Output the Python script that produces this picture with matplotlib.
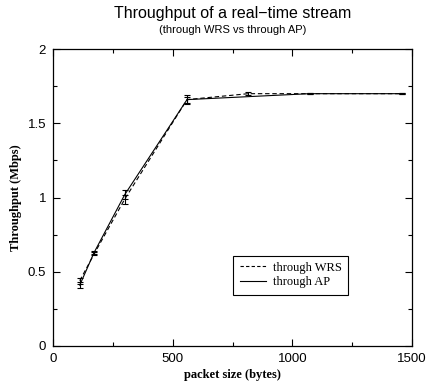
import matplotlib
matplotlib.use("Agg")

import matplotlib.pyplot as plt
from matplotlib.lines import Line2D
from matplotlib.ticker import MultipleLocator

# ---------------- data ----------------
wrs_size = [112, 172, 300, 560, 816, 1072, 1456]
wrs_tput = [0.44, 0.62, 0.99, 1.66, 1.70, 1.70, 1.70]
wrs_err = [0.02, 0.01, 0.03, 0.02, 0.01, 0.005, 0.005]

ap_size = [112, 172, 300, 560, 1072, 1456]
ap_tput = [0.41, 0.63, 1.02, 1.66, 1.70, 1.70]
ap_err = [0.02, 0.01, 0.03, 0.03, 0.005, 0.005]

serif = "Liberation Serif"
sans = "Liberation Sans"
dash = (0, (4, 2.5))

fig = plt.figure(figsize=(4.27, 3.84), dpi=100)
ax = fig.add_axes([0.124, 0.099, 0.841, 0.773])

ax.errorbar(wrs_size, wrs_tput, yerr=wrs_err, color="black", lw=0.8,
            ls=dash, capsize=2.5, elinewidth=0.8, capthick=0.8)
ax.errorbar(ap_size, ap_tput, yerr=ap_err, color="black", lw=0.8,
            capsize=2.5, elinewidth=0.8, capthick=0.8)

ax.set_xlim(0, 1500)
ax.set_ylim(0, 2)
ax.xaxis.set_major_locator(MultipleLocator(500))
ax.xaxis.set_minor_locator(MultipleLocator(250))
ax.yaxis.set_major_locator(MultipleLocator(0.5))
ax.yaxis.set_minor_locator(MultipleLocator(0.25))
ax.yaxis.set_major_formatter(plt.FuncFormatter(lambda v, p: f"{v:g}"))

ax.tick_params(which="both", direction="in", top=True, right=True,
               labelsize=9.5, pad=5)
ax.tick_params(which="major", length=5, width=0.8)
ax.tick_params(which="minor", length=3, width=0.8)
for lab in ax.get_xticklabels() + ax.get_yticklabels():
    lab.set_family(sans)
for sp in ax.spines.values():
    sp.set_linewidth(0.9)

ax.set_xlabel("packet size (bytes)", family=serif, weight="bold", fontsize=9, labelpad=3)
ax.set_ylabel("Throughput (Mbps)", family=serif, weight="bold", fontsize=9, labelpad=4)

# titles centred over the axes
cx = 0.124 + 0.841 / 2
fig.text(cx, 0.965, "Throughput of a real\u2212time stream", ha="center", va="center",
         family=sans, fontsize=11.5)
fig.text(cx, 0.922, "(through WRS vs through AP)", ha="center", va="center",
         family=sans, fontsize=8)

handles = [Line2D([], [], color="black", lw=0.8, ls=(0, (3, 2))),
           Line2D([], [], color="black", lw=0.8)]
leg = ax.legend(handles, ["through WRS", "through AP"],
                loc="lower left", bbox_to_anchor=(0.485, 0.152), frameon=True,
                fancybox=False, edgecolor="black", framealpha=1,
                prop={"family": serif, "size": 9}, handlelength=2.1,
                borderpad=0.5, labelspacing=0.2, handletextpad=0.6)
leg.get_frame().set_linewidth(0.8)

fig.savefig("out.png", dpi=100)
